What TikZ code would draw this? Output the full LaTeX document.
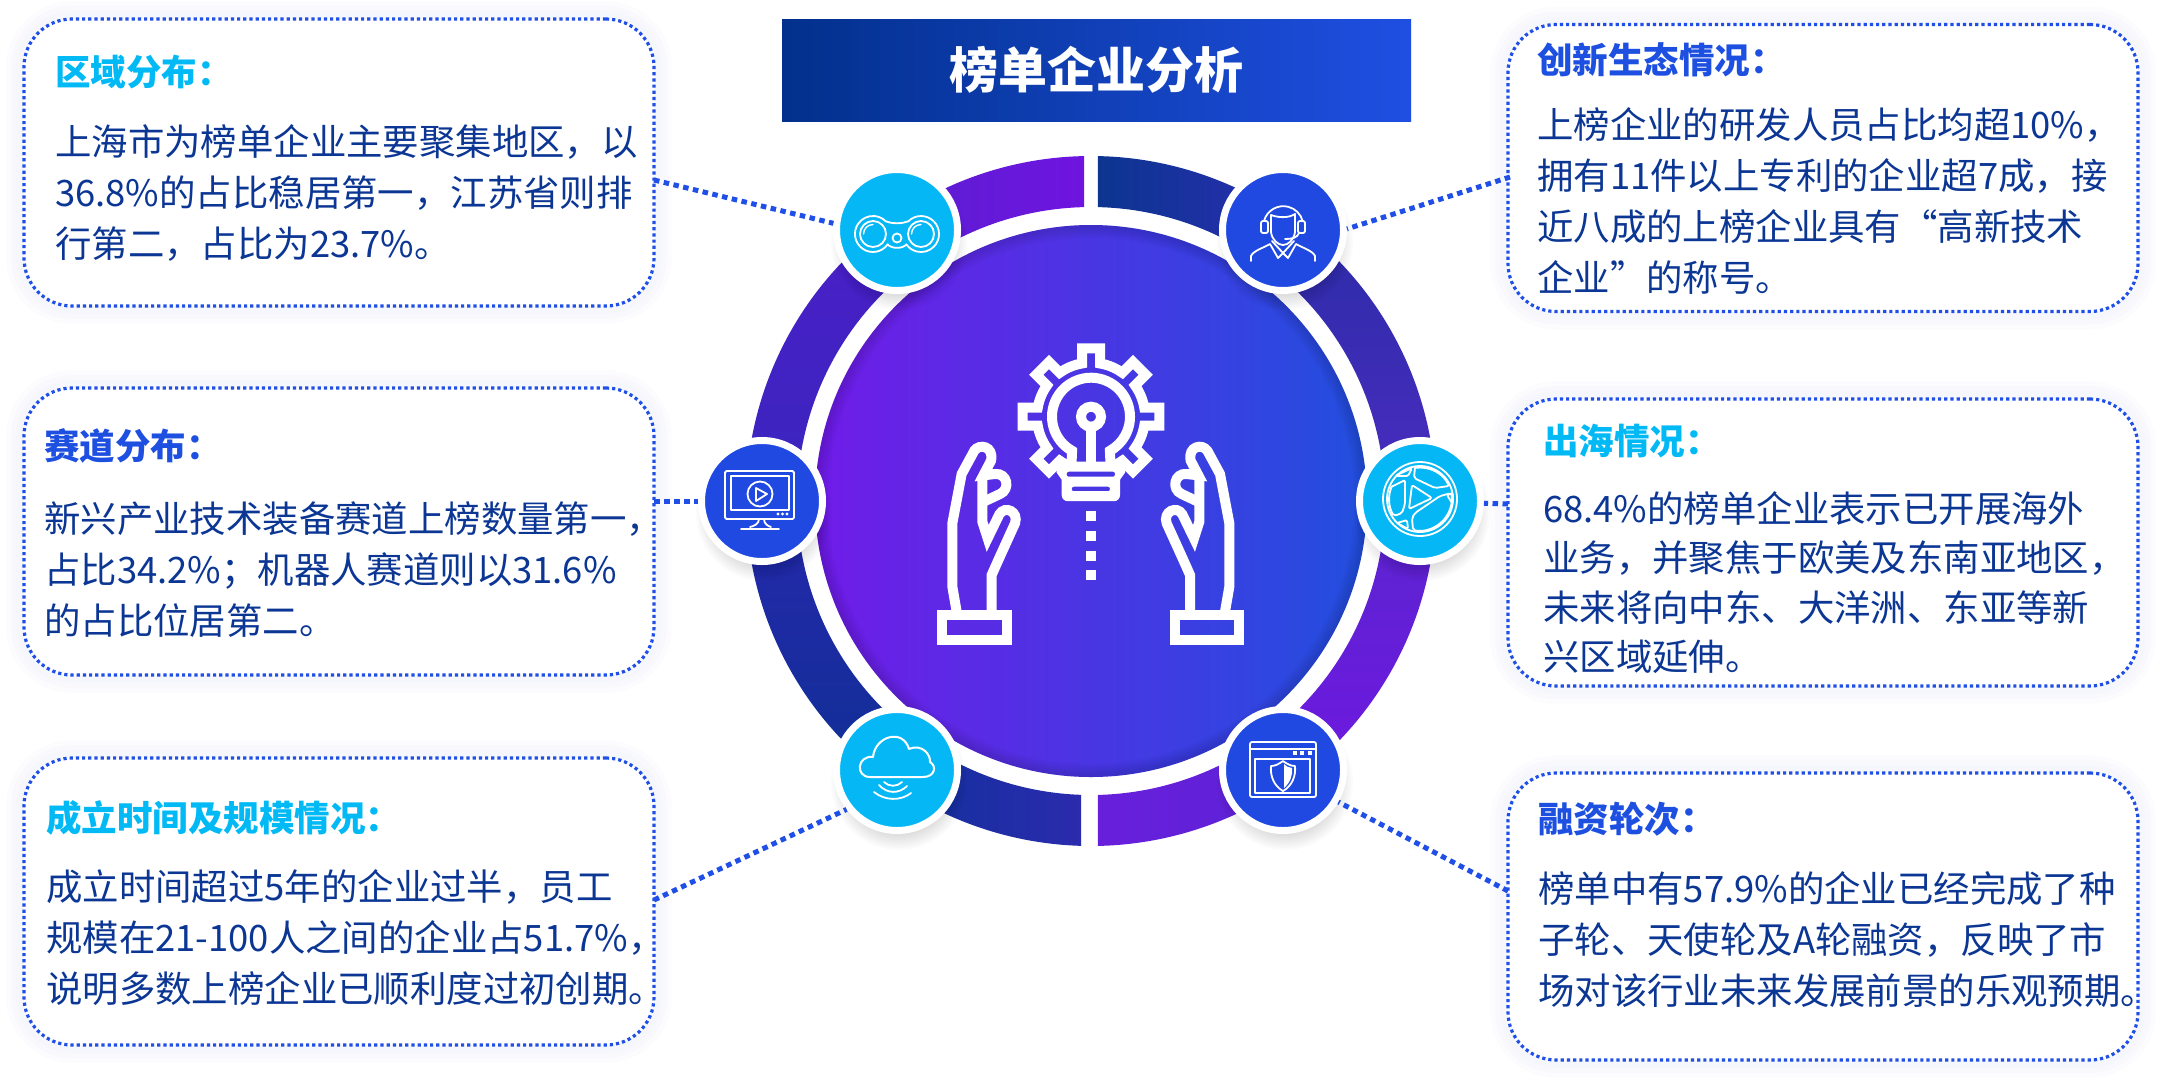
\documentclass[tikz,border=0pt]{standalone}
\usepackage{fontspec}
\setmainfont{Noto Sans CJK SC}
\definecolor{dotblue}{HTML}{1F4FE6}
\definecolor{bodyblue}{HTML}{0B3694}
\definecolor{headcyan}{HTML}{00B9F5}
\definecolor{headblue}{HTML}{1D4FE0}
\definecolor{iconcyan}{HTML}{05B8F5}
\definecolor{iconblue}{HTML}{1F49E0}
\newcommand\firstl{\rule{0pt}{36pt}}
\newcommand\qcomma{^^^^ff0c}
\newcommand\qcolon{^^^^ff1a}
\newcommand\qsemi{^^^^ff1b}
% outer start, inner start, outer end, inner end, shading options
\newcommand\ringseg[5]{\path[#5] (#1:345pt) arc[start angle=#1,end angle=#3,radius=345pt] -- (#4:294pt) arc[start angle=#4,end angle=#2,radius=294pt] -- cycle;}
\newcommand\iconshadow[2]{\foreach \rr in {46,48,...,68}{\fill[black,opacity=.017] (#1+2,#2+12) circle (\rr pt);}}
\tikzset{
  cardbox/.style={rectangle,draw=dotblue,line width=3.2pt,dash pattern=on 3.2pt off 3pt,rounded corners=48pt,fill=white,minimum width=630pt,minimum height=287pt,inner sep=0pt,
    preaction={draw=dotblue,solid,opacity=.012,line width=36pt},
    preaction={draw=dotblue,solid,opacity=.012,line width=26pt},
    preaction={draw=dotblue,solid,opacity=.012,line width=16pt}},
  headtext/.style={anchor=base west,inner sep=0pt,font=\bfseries\fontsize{35.5pt}{40pt}\selectfont},
  bodytext/.style={anchor=north west,inner sep=0pt,align=left,text=bodyblue,font=\fontsize{36.4pt}{51pt}\selectfont},
  iconnode/.style={circle,draw=white,line width=7pt,minimum size=121pt,inner sep=0pt},
  dotline/.style={draw=dotblue,line width=5pt,dash pattern=on 5.5pt off 4.5pt},
  iconline/.style={draw=white,line width=1.8pt,line cap=round,line join=round},
  bigline/.style={draw=white,line width=10pt,line join=miter},
}
\begin{document}
\begin{tikzpicture}[x=1pt,y=-1pt]
\useasboundingbox (0,0) rectangle (2165,1080);
\fill[white] (0,0) rectangle (2165,1080);

% title
\node (title) at (1096.5,70) [rectangle,minimum width=629pt,minimum height=102pt,inner sep=0pt,left color={rgb,255:red,2;green,48;blue,140},right color={rgb,255:red,31;green,79;blue,226},text=white,font=\bfseries\fontsize{49pt}{55pt}\selectfont] {榜单企业分析};

% cards
\node[cardbox] (card1) at (339,162.5) {};
\node[cardbox] (card2) at (339,531.5) {};
\node[cardbox] (card3) at (339,901.5) {};
\node[cardbox] (card4) at (1823,168) {};
\node[cardbox] (card5) at (1823,542.5) {};
\node[cardbox] (card6) at (1823,916.5) {};

\node[headtext,text=headcyan] (h1) at (55,85) {区域分布\qcolon};
\node[bodytext] (b1) at (55,119.5) {\firstl 上海市为榜单企业主要聚集地区\qcomma 以\\36.8\%的占比稳居第一\qcomma 江苏省则排\\行第二\qcomma 占比为23.7\%。};
\node[headtext,text=headblue] (h2) at (44,459.5) {赛道分布\qcolon};
\node[bodytext] (b2) at (44,495.8) {\firstl 新兴产业技术装备赛道上榜数量第一\qcomma\\占比34.2\%\qsemi 机器人赛道则以31.6\%\\的占比位居第二。};
\node[headtext,text=headcyan] (h3) at (46,831.5) {成立时间及规模情况\qcolon};
\node[bodytext] (b3) at (46,864.3) {\firstl 成立时间超过5年的企业过半\qcomma 员工\\规模在21-100人之间的企业占51.7\%\qcomma\\说明多数上榜企业已顺利度过初创期。};
\node[headtext,text=headblue] (h4) at (1537,73) {创新生态情况\qcolon};
\node[bodytext] (b4) at (1537,101.8) {\firstl 上榜企业的研发人员占比均超10\%\qcomma\\拥有11件以上专利的企业超7成\qcomma 接\\近八成的上榜企业具有“高新技术\\企业”的称号。};
\node[headtext,text=headcyan] (h5) at (1543,454) {出海情况\qcolon};
\node[bodytext,font=\fontsize{36.4pt}{49.6pt}\selectfont] (b5) at (1543,485.8) {\firstl 68.4\%的榜单企业表示已开展海外\\业务\qcomma 并聚焦于欧美及东南亚地区\qcomma\\未来将向中东、大洋洲、东亚等新\\兴区域延伸。};
\node[headtext,text=headblue] (h6) at (1538,832.5) {融资轮次\qcolon};
\node[bodytext] (b6) at (1538,865.8) {\firstl 榜单中有57.9\%的企业已经完成了种\\子轮、天使轮及A轮融资\qcomma 反映了市\\场对该行业未来发展前景的乐观预期。};

% ring segments
\begin{scope}[shift={(1091,501)}]
\ringseg{88.84}{88.64}{54.7}{54.7}{left color={rgb,255:red,12;green,53;blue,144},right color={rgb,255:red,42;green,45;blue,176}}
\ringseg{54.7}{54.7}{0}{0}{top color={rgb,255:red,44;green,44;blue,168},bottom color={rgb,255:red,74;green,44;blue,192}}
\ringseg{0}{0}{-54.7}{-54.7}{top color={rgb,255:red,91;green,37;blue,207},bottom color={rgb,255:red,110;green,24;blue,224}}
\ringseg{271.16}{271.36}{305.3}{305.3}{left color={rgb,255:red,104;green,31;blue,220},right color={rgb,255:red,93;green,34;blue,213}}
\ringseg{234.7}{234.7}{268.34}{268.05}{left color={rgb,255:red,18;green,48;blue,156},right color={rgb,255:red,42;green,43;blue,173}}
\ringseg{180}{180}{234.7}{234.7}{top color={rgb,255:red,38;green,40;blue,172},bottom color={rgb,255:red,16;green,47;blue,150}}
\ringseg{125.3}{125.3}{180}{180}{top color={rgb,255:red,74;green,31;blue,200},bottom color={rgb,255:red,58;green,37;blue,189}}
\ringseg{91.16}{91.36}{125.3}{125.3}{left color={rgb,255:red,90;green,31;blue,208},right color={rgb,255:red,111;green,20;blue,224}}
\end{scope}

% central disc
\node (core) at (1091,501) [circle,minimum size=552pt,inner sep=0pt,left color={rgb,255:red,112;green,28;blue,232},middle color={rgb,255:red,90;green,56;blue,228},right color={rgb,255:red,34;green,79;blue,222}] {};
\begin{scope}
\clip (1091,501) circle (276pt);
\foreach \ww in {6,10,...,26}{\draw[black,opacity=.02,line width=\ww pt] (1091,501) circle (276pt);}
\end{scope}

% central icon: gear and bulb
\begin{scope}[shift={(1091,416.7)}]
\draw[bigline] (-62:54pt) arc[start angle=-62,end angle=-54.6,radius=54pt]
  foreach \ang in {-45,0,45,90,135,180}{
    -- (\ang-7.5:69pt) -- (\ang+7.5:69pt) -- (\ang+9.6:54pt)
    arc[start angle=\ang+9.6,end angle=\ang+35.4,radius=54pt] }
  -- (217.5:69pt) -- (232.5:69pt) -- (234.6:54pt) arc[start angle=234.6,end angle=242,radius=54pt];
\draw[bigline] (-19.5,47) -- (241:39pt) arc[start angle=241,end angle=-61,radius=39pt] -- (19.5,47);
\draw[bigline] (0,0) circle (10pt);
\draw[bigline] (0,10) -- (0,47);
\fill[white,even odd rule] (-34.3,45) -- (34,45) -- (34,56) -- (29,63) -- (29,75) [rounded corners=6pt] -- (29,84.5) -- (-29.3,84.5) [sharp corners] -- (-29.3,63) -- (-34.3,56) -- cycle
  [rounded corners=2pt] (-24.3,55) rectangle (24,60) (-19.3,70) rectangle (19,74.5);
\foreach \dy in {99.5,119.5,139.5,158.5}{\fill[white] (-4.9,\dy-4.9) rectangle (4.9,\dy+4.9);}
\end{scope}

% central icon: hands
\begin{scope}[shift={(920,330)},x=.33333pt,y=-.33333pt]
\foreach \mir/\shf in {1/0,-1/1025}{
\begin{scope}[shift={(\shf,0)},xscale=\mir]
\draw[bigline] (110,845) -- (97,770) -- (97,580) -- (125,432) -- (163,362) .. controls (178,340) and (222,348) .. (213,392) -- (190,436) -- (225,432) .. controls (262,428) and (272,478) .. (240,492) -- (187,517);
\draw[bigline] (187,440) -- (187,575) -- (203,625) -- (238,553) .. controls (255,525) and (297,545) .. (285,580) -- (235,690) -- (215,735) -- (215,845);
\draw[bigline] (67,855) rectangle (260,930);
\end{scope}
}
\end{scope}

% icon discs
\iconshadow{897}{230}\iconshadow{1283}{230}\iconshadow{762}{501}\iconshadow{1420}{501}\iconshadow{897}{770}\iconshadow{1283}{770}
\node[iconnode,fill=iconcyan] (icon1) at (897,230) {};
\node[iconnode,fill=iconblue] (icon2) at (762,501) {};
\node[iconnode,fill=iconcyan] (icon3) at (897,770) {};
\node[iconnode,fill=iconblue] (icon4) at (1283,230) {};
\node[iconnode,fill=iconcyan] (icon5) at (1420,501) {};
\node[iconnode,fill=iconblue] (icon6) at (1283,770) {};

% connector free ends at the cards
\coordinate (p1) at (654,180);
\coordinate (p2) at (654,501);
\coordinate (p3) at (654,900);
\coordinate (p4) at (1510,177);
\coordinate (p5) at (1508,504);
\coordinate (p6) at (1508,891);
\draw[dotline] (p1) -- (icon1.174);
\draw[dotline] (p2) -- (icon2.180);
\draw[dotline] (p3) -- (icon3.218);
\draw[dotline] (p4) -- (icon4.1);
\draw[dotline] (p5) -- (icon5.-2);
\draw[dotline] (p6) -- (icon6.-30);

% binoculars
\begin{scope}[shift={(897,230)}]
\draw[iconline] (11.3,-8.7) arc[start angle=135,end angle=-145,radius=18pt] .. controls (6,19) and (-6,19) .. (-9.3,14.3) arc[start angle=-35,end angle=-315,radius=18pt] .. controls (-4,-6) and (4,-6) .. cycle;
\draw[iconline] (-24,4) circle (13pt) (24,4) circle (13pt) (0,8) circle (4.5pt);
\draw[iconline,line width=1.4pt] (-24,4) ++(180:9.5pt) arc[start angle=180,end angle=90,radius=9.5pt];
\draw[iconline,line width=1.4pt] (24,4) ++(180:9.5pt) arc[start angle=180,end angle=90,radius=9.5pt];
\end{scope}

% headset
\begin{scope}[shift={(1283,230)}]
\draw[iconline] (-19,-9) arc[start angle=165,end angle=15,radius=20pt];
\draw[iconline,rounded corners=2pt] (-22,-9) rectangle (-15,3) (15,-9) rectangle (22,3);
\draw[iconline] (-12,2) -- (-12,-15) .. controls (-4,-12) and (6,-12) .. (12,-16) -- (12,2) .. controls (11,10) and (5,15) .. (0,15) .. controls (-5,15) and (-11,10) .. (-12,2);
\draw[iconline] (16,3) .. controls (14,8) and (9,9) .. (2,9);
\draw[iconline] (-32,31) -- (-32,26) .. controls (-30,21) and (-20,18) .. (-13,14) -- (-5,28) -- (0,23) -- (5,28) -- (13,14) .. controls (20,18) and (30,21) .. (32,26) -- (32,31);
\draw[iconline] (-11,11) -- (0,23) -- (11,11);
\end{scope}

% monitor
\begin{scope}[shift={(762,501)}]
\draw[iconline,rounded corners=1.5pt] (-37,-30) rectangle (32,18);
\draw[iconline] (-31,-25) rectangle (27,9);
\draw[iconline] (-2,-7) circle (12.5pt);
\draw[iconline] (-6,-13) -- (5,-7) -- (-6,0) -- cycle;
\foreach \dx in {16,20.5,25}{\fill[white] (\dx,13) circle (1.7pt);}
\draw[iconline] (-3,18) .. controls (-3,23) and (-8,25) .. (-12,26);
\draw[iconline] (2,18) .. controls (2,23) and (6,25) .. (9,26);
\draw[iconline] (-21,28) -- (17,28);
\end{scope}

% globe
\begin{scope}[shift={(1420,499)}]
\draw[iconline] (0,0) circle (37pt) (0,0) circle (33pt);
\draw[iconline,rounded corners=2pt] (-8,-14) -- (12,-1) -- (-11,10) -- cycle;
\draw[iconline,rounded corners=2pt] (-5,-32) -- (-6,-21) -- (15,-11) -- (29,-13) arc[start angle=25,end angle=98,radius=32pt];
\draw[iconline,rounded corners=1.5pt] (-25,-23) -- (-8,-31) -- (-12,-23) -- cycle;
\draw[iconline,rounded corners=2pt] (-29,-12) -- (-15,-19) -- (-15,5) -- (-18,14) -- (-26,17) arc[start angle=212,end angle=156,radius=32pt];
\draw[iconline,rounded corners=2pt] (-8,19) -- (-7,31) arc[start angle=-102,end angle=10,radius=32pt] -- (20,-3) -- (-5,14) -- cycle;
\draw[iconline,rounded corners=1.5pt] (-23,24) -- (-13,21) -- (-12,30) -- cycle;
\draw[iconline,rounded corners=1.5pt] (27,-4) -- (33,-6) -- (32,4) -- cycle;
\end{scope}

% cloud
\begin{scope}[shift={(897,770)}]
\draw[iconline,line width=2pt] (-27,7) .. controls (-42,7) and (-40,-15) .. (-24,-13) .. controls (-22,-34) and (6,-42) .. (12,-21) .. controls (26,-27) and (34,-14) .. (33,-8) .. controls (40,-4) and (38,7) .. (26,7) -- cycle;
\draw[iconline] (-13,12) .. controls (-8,17) and (0,17) .. (5,12);
\draw[iconline] (-18,15) .. controls (-10,24) and (2,24) .. (10,16);
\draw[iconline] (-23,22) .. controls (-12,31) and (4,31) .. (14,23);
\end{scope}

% shield window
\begin{scope}[shift={(1283,770)}]
\draw[iconline,rounded corners=2pt] (-33,-28) rectangle (33,27);
\draw[iconline] (-33,-21) -- (33,-21);
\draw[iconline] (-28,-11) rectangle (27,23);
\foreach \dx in {12,19,27}{\fill[white] (\dx-1.8,-18.8) rectangle (\dx+1.8,-15.2);}
\draw[iconline] (0,-9) .. controls (-4,-6) and (-8,-4) .. (-12,-4) .. controls (-13,6) and (-9,16) .. (0,21) .. controls (9,16) and (13,6) .. (12,-4) .. controls (8,-4) and (4,-6) .. (0,-9);
\fill[white] (1,-6) .. controls (3,-4) and (6,-2) .. (9,-2) .. controls (10,5) and (7,13) .. (1,18) -- cycle;
\end{scope}
\end{tikzpicture}
\end{document}
